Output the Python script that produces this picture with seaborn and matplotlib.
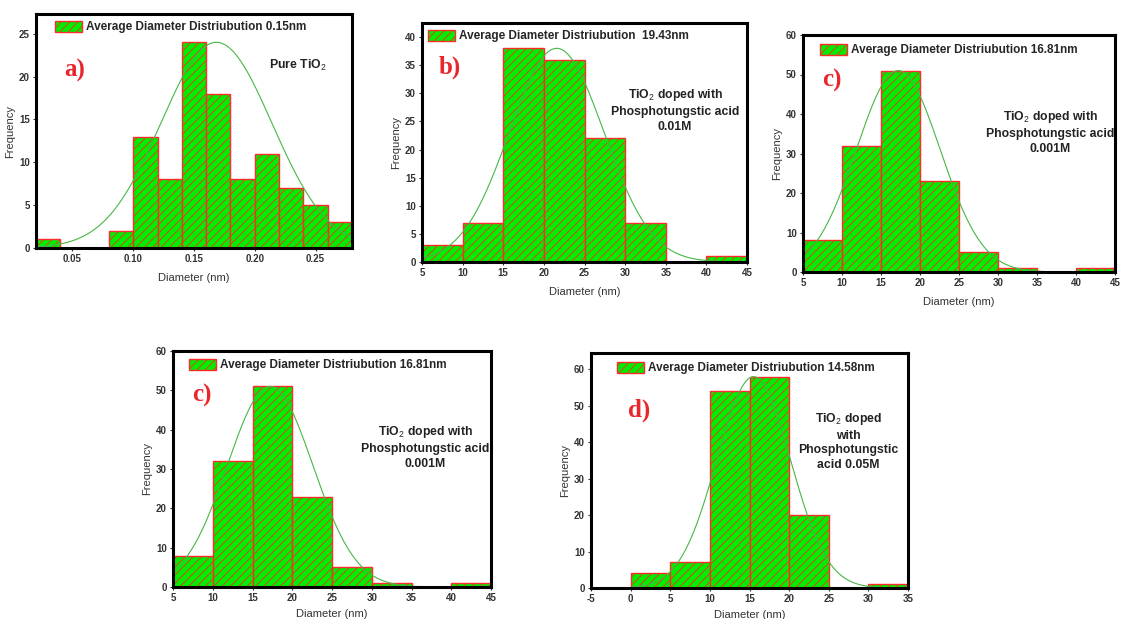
import numpy as np
import pandas as pd
import matplotlib
matplotlib.use("Agg")
import matplotlib.pyplot as plt
import seaborn as sns

# ---------------- data ----------------
edges_a = [0.02, 0.04, 0.06, 0.08, 0.10, 0.12, 0.14, 0.16, 0.18, 0.20, 0.22, 0.24, 0.26, 0.28]
counts_a = [1, 0, 0, 2, 13, 8, 24, 18, 8, 11, 7, 5, 3]

edges_b = [5, 10, 15, 20, 25, 30, 35, 40, 45]
counts_b = [3, 7, 38, 36, 22, 7, 0, 1]

edges_c = [5, 10, 15, 20, 25, 30, 35, 40, 45]
counts_c = [8, 32, 51, 23, 5, 1, 0, 1]

edges_d = [0, 5, 10, 15, 20, 25, 30, 35]
counts_d = [4, 7, 54, 58, 20, 0, 1]

legend_a = "Average Diameter Distriubution 0.15nm"
legend_b = "Average Diameter Distriubution  19.43nm"
legend_c = "Average Diameter Distriubution 16.81nm"
legend_d = "Average Diameter Distriubution 14.58nm"

note_a = "Pure TiO$_2$"
note_b = "TiO$_2$ doped with\nPhosphotungstic acid\n0.01M"
note_c = "TiO$_2$ doped with\nPhosphotungstic acid\n0.001M"
note_d = "TiO$_2$ doped\nwith\nPhosphotungstic\nacid 0.05M"

xticks_a = [0.05, 0.10, 0.15, 0.20, 0.25]
xticklabels_a = ["0.05", "0.10", "0.15", "0.20", "0.25"]
xticks_bc = [5, 10, 15, 20, 25, 30, 35, 40, 45]
xticks_d = [-5, 0, 5, 10, 15, 20, 25, 30, 35]
yticks_a = [0, 5, 10, 15, 20, 25]
yticks_b = [0, 5, 10, 15, 20, 25, 30, 35, 40]
yticks_cd = [0, 10, 20, 30, 40, 50, 60]

# ---------------- style ----------------
sns.set_style("white")
plt.rcParams["font.family"] = ["Liberation Sans", "DejaVu Sans"]
plt.rcParams["hatch.linewidth"] = 0.6
plt.rcParams["mathtext.fontset"] = "custom"
plt.rcParams["mathtext.rm"] = "Liberation Sans"
plt.rcParams["mathtext.bf"] = "Liberation Sans:bold"

W, H = 1125, 619
fig = plt.figure(figsize=(W / 100, H / 100), dpi=100)

FILL = "#00ee00"
EDGE = "#ff2a2a"
CURVE = "#45b845"
LETTER = "#e8262b"


def panel(px, edges, counts, xlim, ylim, xticks, xticklabels, yticks,
          legend_text, leg_pos, letter, letter_pos, note, note_pos, note_ls,
          xlabelpad=6):
    x0, x1, y0, y1 = px
    ax = fig.add_axes([x0 / W, 1 - y1 / H, (x1 - x0) / W, (y1 - y0) / H])
    e = np.asarray(edges, dtype=float)
    c = np.asarray(counts, dtype=float)
    centers = (e[:-1] + e[1:]) / 2
    df = pd.DataFrame({"diam": centers, "freq": c})
    sns.histplot(data=df, x="diam", weights="freq", bins=list(edges), ax=ax,
                 stat="count", color=FILL, edgecolor=EDGE, linewidth=1.0,
                 alpha=1, hatch="////")
    # normal fit of the binned data, scaled to the highest bin
    mu = np.average(centers, weights=c)
    sd = np.sqrt(np.average((centers - mu) ** 2, weights=c))
    xs = np.linspace(e[0], e[-1], 300)
    ys = c.max() * np.exp(-0.5 * ((xs - mu) / sd) ** 2)
    sns.lineplot(x=xs, y=ys, ax=ax, color=CURVE, linewidth=0.8)

    ax.set_xlim(*xlim)
    ax.set_ylim(*ylim)
    ax.set_xticks(xticks)
    ax.set_xticklabels(xticklabels)
    ax.set_yticks(yticks)
    ax.tick_params(axis="both", labelsize=7, length=2, width=0.8,
                   pad=2.5, colors="#333333", direction="out")
    ax.tick_params(axis="both", bottom=True, left=True)
    for lab in ax.get_xticklabels() + ax.get_yticklabels():
        lab.set_fontweight("bold")
    for s in ax.spines.values():
        s.set_visible(True)
        s.set_color("black")
        s.set_linewidth(2.2)
    ax.set_xlabel("Diameter (nm)", fontsize=8, color="#333333",
                  labelpad=xlabelpad)
    ax.set_ylabel("Frequency", fontsize=8, color="#333333", labelpad=2.5)

    ax.legend([ax.patches[0]], [legend_text], loc="center left",
              bbox_to_anchor=leg_pos, frameon=False, borderpad=0,
              borderaxespad=0, handlelength=2.3, handleheight=1.15,
              handletextpad=0.3, prop={"size": 8.5, "weight": "bold"})
    ax.text(letter_pos[0], letter_pos[1], letter, transform=ax.transAxes,
            fontsize=18, fontweight="bold", color=LETTER,
            family=["Liberation Serif", "DejaVu Serif"], ha="left", va="center")
    ax.text(note_pos[0], note_pos[1], note, transform=ax.transAxes,
            fontsize=8.8, fontweight="bold", color="#222222", ha="center",
            va="center", multialignment="center", linespacing=note_ls)
    return ax


def frac(px, x, y):
    x0, x1, y0, y1 = px
    return ((x - x0) / (x1 - x0), (y1 - y) / (y1 - y0))


box_a = (36, 352, 14, 248)
box_b = (422, 747, 23, 262)
box_c = (803, 1115, 35, 272)
box_c2 = (173, 491, 351, 587)
box_d = (591, 908, 353, 588)

panel(box_a, edges_a, counts_a, (0.02, 0.28), (0, 27.3), xticks_a, xticklabels_a,
      yticks_a, legend_a, frac(box_a, 55, 27), "a)", frac(box_a, 64, 70),
      note_a, frac(box_a, 298, 65), 1.4)
panel(box_b, edges_b, counts_b, (5, 45), (0, 42.5), xticks_bc,
      [str(v) for v in xticks_bc], yticks_b, legend_b, frac(box_b, 428, 36),
      "b)", frac(box_b, 439, 67), note_b, frac(box_b, 675, 110), 1.35)
panel(box_c, edges_c, counts_c, (5, 45), (0, 60), xticks_bc,
      [str(v) for v in xticks_bc], yticks_cd, legend_c, frac(box_c, 820, 50),
      "c)", frac(box_c, 822, 80), note_c, frac(box_c, 1050, 132), 1.3)
panel(box_c2, edges_c, counts_c, (5, 45), (0, 60), xticks_bc,
      [str(v) for v in xticks_bc], yticks_cd, legend_c, frac(box_c2, 189, 365),
      "c)", frac(box_c2, 192, 395), note_c, frac(box_c2, 425, 447), 1.3,
      xlabelpad=4)
panel(box_d, edges_d, counts_d, (-5, 35), (0, 64.5), xticks_d,
      [str(v) for v in xticks_d], yticks_cd, legend_d, frac(box_d, 617, 368),
      "d)", frac(box_d, 628, 410), note_d, frac(box_d, 848, 441), 1.3,
      xlabelpad=4)

fig.savefig("out.png", dpi=100)
